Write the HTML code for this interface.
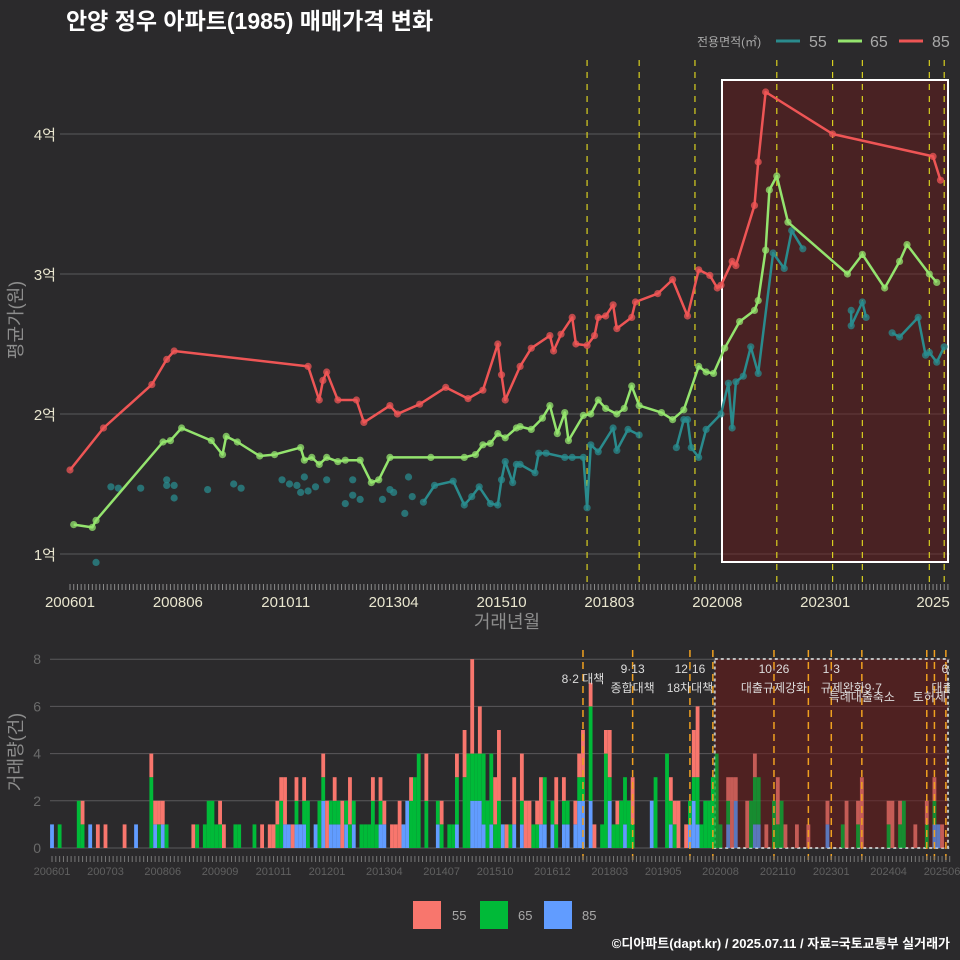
<!DOCTYPE html>
<html><head><meta charset="utf-8">
<style>
body{margin:0;background:#2b2a2c;}
svg{display:block;font-family:"Liberation Sans","Noto Sans CJK KR",sans-serif;}
</style></head>
<body>
<svg id="chart" width="960" height="960" viewBox="0 0 960 960">
<rect x="0" y="0" width="960" height="960" fill="#2b2a2c"/>
<text x="66" y="29" fill="#ffffff" font-size="23" font-weight="bold">안양 정우 아파트(1985) 매매가격 변화</text>
<g>
<text x="697" y="46" fill="#a8a8a8" font-size="12">전용면적(㎡)</text>
<line x1="776" y1="41" x2="800" y2="41" stroke="#2a8b8d" stroke-width="3"/>
<text x="809" y="47" fill="#a8a8a8" font-size="16">55</text>
<line x1="838" y1="41" x2="862" y2="41" stroke="#94e46e" stroke-width="3"/>
<text x="870" y="47" fill="#a8a8a8" font-size="16">65</text>
<line x1="899" y1="41" x2="923" y2="41" stroke="#ee5555" stroke-width="3"/>
<text x="932" y="47" fill="#a8a8a8" font-size="16">85</text>
</g>
<g id="topPanel"></g>
<g id="botPanel"></g>
<g>
<rect x="413" y="901" width="28" height="28" fill="#f8766d"/>
<text x="452" y="920" fill="#a8a8a8" font-size="13">55</text>
<rect x="480" y="901" width="28" height="28" fill="#00ba38"/>
<text x="518" y="920" fill="#a8a8a8" font-size="13">65</text>
<rect x="544" y="901" width="28" height="28" fill="#619cff"/>
<text x="582" y="920" fill="#a8a8a8" font-size="13">85</text>
</g>
<text x="950" y="948" fill="#ffffff" font-size="13" font-weight="bold" text-anchor="end">©디아파트(dapt.kr) / 2025.07.11 / 자료=국토교통부 실거래가</text>
</svg>
<script>
// month index m: 0 = 200601
const priceTicks = [1,2,3,4];
const priceTickLabels = ['1억','2억','3억','4억'];
const topXTickMonths = [0,29,58,87,116,145,174,203,232];
const topXTickLabels = ['200601','200806','201011','201304','201510','201803','202008','202301','2025'];
const s85Months = [0,9,22,26,28,64,67,68,69,72,77,79,86,88,94,101,107,111,115,116,117,121,124,129,130,132,135,136,139,141,142,144,146,147,151,152,158,162,166,169,172,174,175,178,179,184,185,187,205,232,234];
const s85Prices = [1.6,1.9,2.21,2.39,2.45,2.34,2.1,2.24,2.3,2.1,2.1,1.94,2.06,2.0,2.07,2.19,2.11,2.17,2.5,2.28,2.1,2.34,2.47,2.56,2.45,2.57,2.69,2.5,2.49,2.56,2.69,2.7,2.78,2.61,2.69,2.8,2.86,2.96,2.7,3.03,2.99,2.9,2.92,3.09,3.06,3.49,3.8,4.3,4.0,3.84,3.67];
const s65Months = [1,6,7,25,27,30,38,41,42,45,51,55,62,63,65,67,69,72,74,78,81,83,86,97,106,109,111,113,115,117,120,121,124,127,129,131,133,134,138,140,142,144,147,149,151,153,159,162,165,169,171,173,176,180,184,185,187,188,190,193,209,213,219,223,225,231,233];
const s65Prices = [1.21,1.19,1.24,1.8,1.81,1.9,1.81,1.71,1.84,1.8,1.7,1.71,1.76,1.67,1.69,1.64,1.69,1.66,1.67,1.67,1.51,1.53,1.69,1.69,1.69,1.71,1.78,1.79,1.86,1.83,1.9,1.91,1.89,1.97,2.06,1.86,2.01,1.81,1.99,2.0,2.1,2.04,2.0,2.04,2.2,2.06,2.01,1.96,2.03,2.34,2.3,2.29,2.47,2.66,2.74,2.81,3.17,3.6,3.7,3.37,3.0,3.14,2.9,3.09,3.21,3.0,2.94];
const s55Months = [7,11,13,19,26,26,28,28,37,44,46,57,59,61,62,63,64,66,69,74,76,76,78,84,86,87,90,91,92,95,98,103,106,108,110,113,115,116,117,119,120,121,125,126,128,133,135,138,139,140,142,146,147,150,153,163,165,166,167,169,171,175,177,178,179,181,183,185,189,192,194,197,210,210,213,214,221,223,228,230,231,233,235];
const s55Prices = [0.94,1.48,1.47,1.47,1.53,1.49,1.4,1.49,1.46,1.5,1.47,1.53,1.5,1.49,1.44,1.55,1.45,1.48,1.53,1.36,1.53,1.42,1.39,1.39,1.46,1.44,1.29,1.55,1.41,1.37,1.49,1.52,1.35,1.41,1.48,1.36,1.35,1.53,1.66,1.51,1.64,1.64,1.58,1.72,1.72,1.69,1.69,1.69,1.33,1.78,1.73,1.9,1.74,1.89,1.85,1.76,1.96,1.96,1.76,1.69,1.89,2.0,2.22,1.9,2.23,2.27,2.48,2.29,3.15,3.04,3.31,3.18,2.74,2.63,2.8,2.69,2.58,2.55,2.69,2.42,2.44,2.37,2.48];
const topEventMonths = [139,153,168,190,205,213,231,235];
// volume
const volTicks = [0,2,4,6,8];
const botXTickMonths = [0,14,29,44,58,72,87,102,116,131,146,160,175,190,204,219,233];
const botXTickLabels = ['200601','200703','200806','200909','201011','201201','201304','201407','201510','201612','201803','201905','202008','202110','202301','202404','202506'];
const volMonths = [0,2,7,8,10,12,14,19,22,26,27,28,29,30,37,38,40,41,42,43,44,45,48,49,53,55,57,58,59,60,61,62,63,64,65,66,67,69,70,71,72,73,74,75,76,77,78,79,81,82,83,84,85,86,87,89,90,91,92,93,94,95,96,98,101,102,104,105,106,108,109,110,111,112,113,114,115,116,117,118,119,120,121,123,124,125,126,127,128,129,131,132,134,135,137,138,139,141,142,144,145,146,147,148,149,150,151,152,157,158,161,162,163,164,166,167,168,169,170,171,172,173,174,175,177,178,179,182,183,184,185,187,189,190,191,192,195,198,203,207,208,209,211,212,219,220,222,223,226,229,231,232,233];
const vol85 = [1,0,0,0,1,0,0,0,1,0,1,0,1,0,0,0,0,0,0,0,0,0,0,0,0,0,0,0,0,0,1,1,0,1,1,1,0,1,0,2,0,1,1,1,0,1,0,1,0,0,0,0,0,1,1,0,0,0,1,2,0,0,0,0,1,0,0,0,1,0,0,2,2,2,1,0,1,0,0,1,0,0,1,1,0,0,0,0,1,1,1,0,1,1,1,2,2,2,0,0,0,2,0,0,0,1,0,0,2,0,0,1,0,0,0,1,2,1,0,0,0,0,0,0,1,0,2,0,0,1,1,0,0,0,0,0,0,0,1,0,0,0,0,0,0,0,0,0,0,0,1,1,0];
const vol65 = [0,1,2,1,0,0,0,0,0,3,0,1,0,1,0,1,1,2,2,1,1,0,1,1,1,0,0,0,1,2,0,0,0,1,0,1,2,0,2,1,0,1,1,1,0,1,1,1,1,1,1,2,1,1,0,0,0,0,0,0,2,3,4,2,1,1,1,1,2,3,4,2,2,2,3,2,3,1,2,0,0,1,0,1,0,0,1,1,0,2,1,1,1,1,0,1,1,4,0,1,4,1,1,1,2,2,2,1,0,3,4,1,1,0,0,1,1,2,1,2,2,3,4,1,1,0,0,0,2,2,2,0,2,1,2,0,0,0,0,1,0,0,1,0,1,0,1,2,0,1,1,0,0];
const vol55 = [0,0,0,1,0,1,1,1,0,1,1,1,1,0,1,0,0,0,0,0,1,1,0,0,0,1,1,1,1,1,2,0,1,1,0,1,0,0,0,1,2,0,1,0,2,0,2,0,0,0,0,1,0,1,1,1,1,2,0,0,1,0,0,2,0,1,0,0,1,2,0,4,0,2,0,0,0,2,3,0,1,0,2,2,2,2,0,1,2,0,0,2,1,0,1,1,2,1,1,0,1,2,0,1,0,0,0,2,0,0,0,1,1,2,1,0,2,3,0,0,0,0,0,0,1,3,1,2,0,1,0,1,0,2,0,1,1,1,1,0,2,0,1,3,1,2,1,0,1,1,1,0,1];
const botEventMonths = [139,152,167,173,189,198,204,212,229,231,234];
const eventLabelMonths = [139,152,152,167,167,189,189,204,207,215,212,233,236,236];
const eventLabelTexts = ['8·2 대책','9·13','종합대책','12·16','18차대책','10·26','대출규제강화','1·3','규제완화','9·7','특례대출축소','토허제 해제','6·27','대출규제'];
const eventLabelRows = [1,0,1.9,0,1.9,0,1.9,0,1.9,1.9,2.8,2.8,0,1.9];

const NS='http://www.w3.org/2000/svg';
function mk(parent, tag, attrs){const e=document.createElementNS(NS,tag);for(const k in attrs)e.setAttribute(k,attrs[k]);parent.appendChild(e);return e;}

// ---------- top panel ----------
const topG=document.getElementById('topPanel');
const TL=60, TR=950, TT=58, TB=586;
const tx=m=>70+m*3.72;
const ty=p=>554-(p-1)*140;
const defs=mk(topG,'defs',{});
const cp=mk(defs,'clipPath',{id:'topclip'});
mk(cp,'rect',{x:TL,y:TT,width:TR-TL,height:TB-TT});
const cp2=mk(defs,'clipPath',{id:'botclip'});
mk(cp2,'rect',{x:45,y:640,width:905,height:220});

priceTicks.forEach((v,i)=>{
  const g=mk(topG,'line',{x1:TL,x2:TR,y1:ty(v),y2:ty(v),stroke:'#5a595b','stroke-width':1});
  
  
  const t=mk(topG,'text',{x:56,y:ty(v)+6,'text-anchor':'end',fill:'#e9e6cf','font-size':15});
  t.textContent=priceTickLabels[i];
  
  
});
const box=mk(topG,'rect',{x:722,y:80,width:226,height:482,fill:'rgba(110,25,25,0.45)',stroke:'#ffffff','stroke-width':2});


topEventMonths.forEach(m=>{
  const l=mk(topG,'line',{x1:tx(m),x2:tx(m),y1:60,y2:586,stroke:'#d8d020','stroke-width':1.2,'stroke-dasharray':'6,6'});
  
  
});
for(let m=0;m<=236;m++){
  const l=mk(topG,'line',{x1:tx(m),x2:tx(m),y1:584,y2:590,stroke:'#8a8a8a','stroke-width':1});
  
  
}
topXTickMonths.forEach((m,i)=>{
  const t=mk(topG,'text',{x:tx(m),y:607,'text-anchor':'middle',fill:'#e9e6cf','font-size':15});
  t.textContent=topXTickLabels[i];
  
  
});
const xt=mk(topG,'text',{x:507,y:628,'text-anchor':'middle',fill:'#8d8d8d','font-size':18});
xt.textContent='거래년월';


const yt=mk(topG,'text',{x:0,y:0,'text-anchor':'middle',fill:'#8d8d8d','font-size':18,transform:'translate(22,320) rotate(-90)'});
yt.textContent='평균가(원)';



const series=[
  {months:s55Months,prices:s55Prices,color:'#2a8b8d',name:'55',gap:6,lineFrom:95},
  {months:s65Months,prices:s65Prices,color:'#94e46e',name:'65',gap:999,lineFrom:0},
  {months:s85Months,prices:s85Prices,color:'#ee5555',name:'85',gap:999,lineFrom:0}
];
const sg=mk(topG,'g',{'clip-path':'url(#topclip)'});
series.forEach(s=>{
  const n=Math.min(s.months.length,s.prices.length);
  let segs=[],cur=[],prev=null;
  for(let i=0;i<n;i++){
    if(s.months[i]<s.lineFrom) continue;
    if(cur.length && prev!==null && s.months[i]-prev>s.gap){segs.push(cur);cur=[];}
    cur.push(tx(s.months[i]).toFixed(1)+','+ty(s.prices[i]).toFixed(1));
    prev=s.months[i];
  }
  if(cur.length)segs.push(cur);
  segs.forEach(sg2=>{
    if(sg2.length<2)return;
    const pl=mk(sg,'polyline',{points:sg2.join(' '),fill:'none',stroke:s.color,'stroke-width':2.5,'stroke-linejoin':'round'});
    
    
  });
  for(let i=0;i<n;i++){
    const c=mk(sg,'circle',{cx:tx(s.months[i]),cy:ty(s.prices[i]),r:3.6,fill:s.color,'fill-opacity':0.75});
    
    
  }
});

// ---------- bottom panel ----------
const botG=document.getElementById('botPanel');
const bx=m=>52+m*3.82;
const by=v=>848-v*23.6;
volTicks.forEach(v=>{
  const g=mk(botG,'line',{x1:50,x2:950,y1:by(v),y2:by(v),stroke:'#5a595b','stroke-width':1});
  
  
  const t=mk(botG,'text',{x:41,y:by(v)+5,'text-anchor':'end',fill:'#6a6a6a','font-size':14});
  t.textContent=v;
  
  
});
const bb=mk(botG,'rect',{x:bx(173.5),y:659,width:948-bx(173.5),height:189,fill:'rgba(110,25,25,0.55)',stroke:'#bdbdbd','stroke-width':2,'stroke-dasharray':'3,3'});


const barG=mk(botG,'g',{'clip-path':'url(#botclip)'});
const bw=3.82;
volMonths.forEach((m,i)=>{
  let base=0;
  [[vol85[i]||0,'#619cff','85'],[vol65[i]||0,'#00ba38','65'],[vol55[i]||0,'#f8766d','55']].forEach(([v,col,nm])=>{
    if(!v)return;
    const r=mk(barG,'rect',{x:bx(m)-bw/2,y:by(base+v),width:bw,height:v*23.6,fill:col,'fill-opacity':m>=174?0.7:1});
    
    
    base+=v;
  });
});
botEventMonths.forEach(m=>{
  const l=mk(botG,'line',{x1:bx(m),x2:bx(m),y1:650,y2:860,stroke:'#f0a020','stroke-width':1.5,'stroke-dasharray':'7,5'});
  
  
});
const lblG=mk(botG,'g',{'clip-path':'url(#botclip)'});
eventLabelMonths.forEach((m,i)=>{
  const t=mk(lblG,'text',{x:bx(m),y:673+eventLabelRows[i]*10,'text-anchor':'middle',fill:'#dddddd','font-size':12});
  t.textContent=eventLabelTexts[i];
  
  
});
for(let m=0;m<=235;m++){
  const l=mk(botG,'line',{x1:bx(m),x2:bx(m),y1:856,y2:862,stroke:'#777','stroke-width':1});
  
  
}
botXTickMonths.forEach((m,i)=>{
  const t=mk(botG,'text',{x:bx(m),y:875,'text-anchor':'middle',fill:'#606060','font-size':11});
  t.textContent=botXTickLabels[i];
  
  
});
const vt=mk(botG,'text',{x:0,y:0,'text-anchor':'middle',fill:'#8d8d8d','font-size':18,transform:'translate(22,752) rotate(-90)'});
vt.textContent='거래량(건)';


</script>
</body></html>
